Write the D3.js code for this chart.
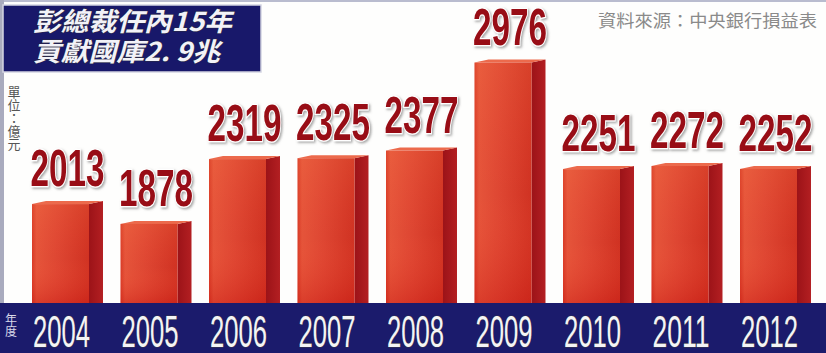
<!DOCTYPE html>
<html>
<head>
<meta charset="utf-8">
<script src="https://cdn.jsdelivr.net/npm/d3@7"></script>
<style>
  html, body { margin: 0; padding: 0; background: #ffffff; }
  svg { display: block; }
</style>
</head>
<body>
<script>
// Central bank surplus paid to the treasury, by year (億元)
const years = ["2004", "2005", "2006", "2007", "2008", "2009", "2010", "2011", "2012"];
const surplus = [2013, 1878, 2319, 2325, 2377, 2976, 2251, 2272, 2252];
const titleLines = ["彭總裁任內15年", "貢獻國庫2. 9兆"];
const sourceNote = "資料來源：中央銀行損益表";
const unitLabel = "單位：億元";
const yearCaption = "年度";

const W = 826, H = 353;
const base = 303;          // top of the navy year strip
const depth = 14, rise = 3; // 3D offset of side/top faces

const svg = d3.select("body").append("svg")
  .attr("width", W).attr("height", H)
  .attr("viewBox", `0 0 ${W} ${H}`);

const defs = svg.append("defs");

const gFront = defs.append("linearGradient").attr("id", "front").attr("x1", 0).attr("x2", 1).attr("y1", 0).attr("y2", 0);
[["0%", "#d83a26"], ["8%", "#e5543a"], ["45%", "#de4632"], ["100%", "#d03222"]]
  .forEach(([o, c]) => gFront.append("stop").attr("offset", o).attr("stop-color", c));

const gShade = defs.append("linearGradient").attr("id", "shade").attr("x1", 0).attr("x2", 0).attr("y1", 0).attr("y2", 1);
[["0%", "#ff8a50", 0.16], ["55%", "#ff6040", 0.0], ["100%", "#c00808", 0.3]]
  .forEach(([o, c, a]) => gShade.append("stop").attr("offset", o).attr("stop-color", c).attr("stop-opacity", a));

const gSide = defs.append("linearGradient").attr("id", "side").attr("x1", 0).attr("x2", 1).attr("y1", 0).attr("y2", 0);
[["0%", "#9c1318"], ["100%", "#b31f22"]]
  .forEach(([o, c]) => gSide.append("stop").attr("offset", o).attr("stop-color", c));

const shadow = defs.append("filter").attr("id", "txtShadow").attr("x", "-10%").attr("y", "-10%").attr("width", "130%").attr("height", "130%");
shadow.append("feDropShadow").attr("dx", 1.5).attr("dy", 1.5).attr("stdDeviation", 1.2)
  .attr("flood-color", "#6b6b6b").attr("flood-opacity", 0.6);

// page frame details
svg.append("rect").attr("x", 0).attr("y", 0).attr("width", W).attr("height", H).attr("fill", "#fefefd");
svg.append("rect").attr("x", 0).attr("y", 0).attr("width", W).attr("height", 2).attr("fill", "#b9bccf");
svg.append("rect").attr("x", 0).attr("y", 0).attr("width", 4).attr("height", base).attr("fill", "#a9abbe");

// scales
const x = d3.scaleBand().domain(years)
  .range([16.25, 812.75]).paddingInner(0.356).paddingOuter(0.178);
const y = d3.scaleLinear().domain([1340, 3000]).range([base, 59]);

const data = years.map((yr, i) => ({ year: yr, value: surplus[i] }));

// year strip
svg.append("rect").attr("x", 0).attr("y", base).attr("width", W).attr("height", H - base).attr("fill", "#1b1b6c");

// bars
const bars = svg.append("g").selectAll("g").data(data).join("g");
const bw = x.bandwidth();

bars.append("path") // side face
  .attr("d", d => {
    const x0 = x(d.year) + bw, t = y(d.value);
    return `M${x0},${t} L${x0 + depth},${t - rise} L${x0 + depth},${base} L${x0},${base} Z`;
  })
  .attr("fill", "url(#side)");

bars.append("path") // top face
  .attr("d", d => {
    const x0 = x(d.year), t = y(d.value);
    return `M${x0},${t} L${x0 + depth},${t - rise} L${x0 + bw + depth},${t - rise} L${x0 + bw},${t} Z`;
  })
  .attr("fill", "#ec6a4c");

bars.append("rect") // front face
  .attr("x", d => x(d.year)).attr("y", d => y(d.value))
  .attr("width", bw).attr("height", d => base - y(d.value))
  .attr("fill", "url(#front)");

bars.append("rect")
  .attr("x", d => x(d.year)).attr("y", d => y(d.value))
  .attr("width", bw).attr("height", d => base - y(d.value))
  .attr("fill", "url(#shade)");

// value labels
svg.append("g").selectAll("text").data(data).join("text")
  .attr("x", d => x(d.year) + (bw + depth) / 2)
  .attr("y", d => y(d.value) - 18)
  .attr("text-anchor", "middle")
  .attr("font-family", "'Liberation Sans', Arial, sans-serif")
  .attr("font-weight", "bold")
  .attr("font-size", 51)
  .attr("textLength", 74)
  .attr("lengthAdjust", "spacingAndGlyphs")
  .attr("fill", "#980a12")
  .attr("stroke", "#ffffff")
  .attr("stroke-width", 2.5)
  .attr("paint-order", "stroke")
  .attr("filter", "url(#txtShadow)")
  .text(d => d3.format("d")(d.value));

// year axis
const axis = svg.append("g")
  .attr("transform", `translate(1,${base})`)
  .call(d3.axisBottom(x).tickSize(0).tickPadding(0));
axis.select(".domain").remove();
axis.selectAll("text")
  .attr("dy", 0)
  .attr("y", 44)
  .attr("font-family", "'Liberation Sans', Arial, sans-serif")
  .attr("font-size", 45)
  .attr("textLength", 57)
  .attr("lengthAdjust", "spacingAndGlyphs")
  .attr("fill", "#f4f4f6")
  .attr("stroke", "#3a3a4a")
  .attr("stroke-width", 1.2)
  .attr("paint-order", "stroke");

// title box
svg.append("rect").attr("x", 3).attr("y", 5).attr("width", 258).attr("height", 67)
  .attr("fill", "#18186a").attr("stroke", "#d4d5e2").attr("stroke-width", 1.5);
svg.append("g").selectAll("text").data(titleLines).join("text")
  .attr("x", 33)
  .attr("y", (d, i) => 31 + i * 30)
  .attr("font-family", "'Noto Sans CJK TC', 'Noto Sans CJK SC', sans-serif")
  .attr("font-weight", "bold")
  .attr("font-style", "italic")
  .attr("font-size", 26)
  .attr("textLength", (d, i) => i === 0 ? 199 : 187)
  .attr("lengthAdjust", "spacingAndGlyphs")
  .attr("fill", "#f2f2f8")
  .attr("stroke", "#2a2a40")
  .attr("stroke-width", 1)
  .attr("paint-order", "stroke")
  .text(d => d);

// source note
svg.append("text")
  .attr("x", 598).attr("y", 27)
  .attr("font-family", "'Noto Sans CJK TC', 'Noto Sans CJK SC', sans-serif")
  .attr("font-size", 17)
  .attr("textLength", 219)
  .attr("lengthAdjust", "spacingAndGlyphs")
  .attr("fill", "#8a8a8a")
  .text(sourceNote);

// unit note (vertical)
svg.append("text")
  .attr("x", 14).attr("y", 86)
  .style("writing-mode", "vertical-rl")
  .attr("font-family", "'Noto Sans CJK TC', 'Noto Sans CJK SC', sans-serif")
  .attr("font-size", 13)
  .attr("fill", "#555")
  .text(unitLabel);

// year caption (vertical)
svg.append("text")
  .attr("x", 11).attr("y", 313)
  .style("writing-mode", "vertical-rl")
  .attr("font-family", "'Noto Sans CJK TC', 'Noto Sans CJK SC', sans-serif")
  .attr("font-size", 12)
  .attr("fill", "#d8d8e8")
  .text(yearCaption);
</script>
</body>
</html>
